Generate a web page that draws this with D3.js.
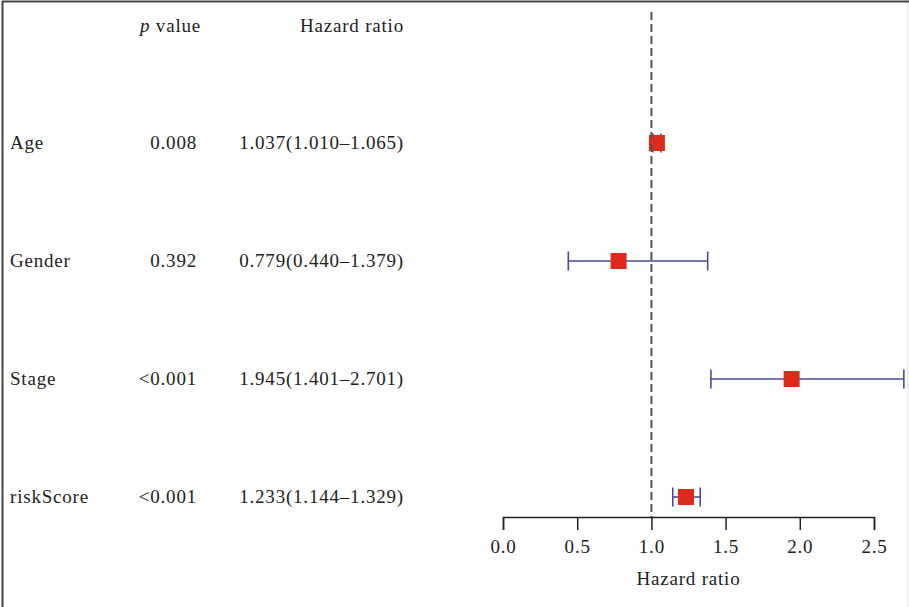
<!DOCTYPE html>
<html>
<head>
<meta charset="utf-8">
<script src="https://cdn.jsdelivr.net/npm/d3@7"></script>
<style>
  body { margin: 0; background: #fff; }
  text { font-family: "Liberation Serif", "DejaVu Serif", serif; fill: #222; letter-spacing: 0.8px; }
</style>
</head>
<body>
<svg id="forest"></svg>
<script>
const variables = ["Age", "Gender", "Stage", "riskScore"];
const pValues = ["0.008", "0.392", "<0.001", "<0.001"];
const hr = [1.037, 0.779, 1.945, 1.233];
const hrLow = [1.010, 0.440, 1.401, 1.144];
const hrHigh = [1.065, 1.379, 2.701, 1.329];
const ticks = [0, 0.5, 1.0, 1.5, 2.0, 2.5];

const width = 909;
const height = 607;
const fs = "19px";

const svg = d3.select("#forest")
  .attr("width", width)
  .attr("height", height);

// frame
svg.append("line").attr("x1", 2).attr("x2", width).attr("y1", 1.5).attr("y2", 1.5)
  .attr("stroke", "#444").attr("stroke-width", 2);
svg.append("line").attr("x1", 2.5).attr("x2", 2.5).attr("y1", 1).attr("y2", height)
  .attr("stroke", "#444").attr("stroke-width", 2);
svg.append("line").attr("x1", 908).attr("x2", 908).attr("y1", 3).attr("y2", height)
  .attr("stroke", "#ddd").attr("stroke-width", 1);

const x = d3.scaleLinear()
  .domain([0, 2.5])
  .range([503, 874]);

const y = d3.scalePoint()
  .domain(variables)
  .range([143, 497]);

const axisY = 517;

// headers
svg.append("text").attr("x", 201).attr("y", 32).attr("text-anchor", "end")
  .style("font-size", fs)
  .html('<tspan font-style="italic">p</tspan> value');
svg.append("text").attr("x", 404).attr("y", 32).attr("text-anchor", "end")
  .style("font-size", fs)
  .text("Hazard ratio");

const rows = svg.append("g").selectAll("g")
  .data(variables)
  .join("g")
  .attr("transform", d => `translate(0,${y(d)})`);

rows.append("text").attr("x", 10).attr("y", 6).style("font-size", fs)
  .text(d => d);
rows.append("text").attr("x", 197).attr("y", 6).attr("text-anchor", "end")
  .style("font-size", fs)
  .text((d, i) => pValues[i]);
rows.append("text").attr("x", 404).attr("y", 6).attr("text-anchor", "end")
  .style("font-size", fs)
  .text((d, i) => `${hr[i].toFixed(3)}(${hrLow[i].toFixed(3)}\u2013${hrHigh[i].toFixed(3)})`);

// reference line at HR = 1
svg.append("line")
  .attr("x1", x(1)).attr("x2", x(1))
  .attr("y1", 12).attr("y2", axisY)
  .attr("stroke", "#555").attr("stroke-width", 2)
  .attr("stroke-dasharray", "8,4");

// confidence intervals
const ciColor = "#4b4b9c";
rows.append("line")
  .attr("x1", (d, i) => x(hrLow[i])).attr("x2", (d, i) => x(hrHigh[i]))
  .attr("y1", 0).attr("y2", 0)
  .attr("stroke", ciColor).attr("stroke-width", 1.6);
rows.append("line")
  .attr("x1", (d, i) => x(hrLow[i])).attr("x2", (d, i) => x(hrLow[i]))
  .attr("y1", -9.5).attr("y2", 9.5)
  .attr("stroke", ciColor).attr("stroke-width", 1.6);
rows.append("line")
  .attr("x1", (d, i) => x(hrHigh[i])).attr("x2", (d, i) => x(hrHigh[i]))
  .attr("y1", -9.5).attr("y2", 9.5)
  .attr("stroke", ciColor).attr("stroke-width", 1.6);

// point estimates
const box = 16;
rows.append("rect")
  .attr("x", (d, i) => x(hr[i]) - box / 2)
  .attr("y", -box / 2)
  .attr("width", box).attr("height", box)
  .attr("fill", "#de2a1b");

// x axis
const axis = svg.append("g")
  .attr("transform", `translate(0,${axisY})`)
  .call(d3.axisBottom(x).tickValues(ticks).tickFormat(d3.format(".1f")).tickSize(13).tickPadding(10));
axis.select(".domain").attr("stroke", "#222").attr("stroke-width", 1.5);
axis.selectAll(".tick line").attr("stroke", "#222").attr("stroke-width", 1.5);
axis.selectAll(".tick text")
  .style("font-family", '"Liberation Serif", serif')
  .style("font-size", fs)
  .style("letter-spacing", "0.8px")
  .attr("fill", "#222");

svg.append("text")
  .attr("x", (x(0) + x(2.5)) / 2)
  .attr("y", 585)
  .attr("text-anchor", "middle")
  .style("font-size", fs)
  .text("Hazard ratio");
</script>
</body>
</html>
